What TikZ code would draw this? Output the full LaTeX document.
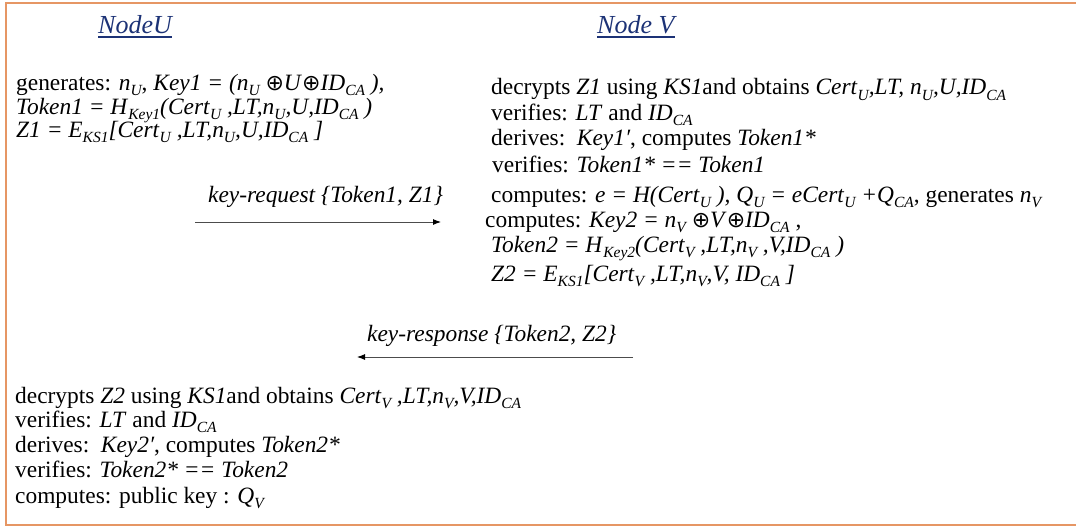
\documentclass[tikz,border=0pt]{standalone}
\usepackage{fontspec}
\setmainfont{Liberation Serif}
\newfontfamily\symfam{DejaVu Sans}
\usetikzlibrary{arrows.meta}
\definecolor{framec}{RGB}{230,150,100}
\definecolor{titlec}{RGB}{28,50,118}
% lowered italic subscript (takes no vertical room in the line)
\newcommand{\lo}[1]{\raisebox{-5.5pt}[0pt][0pt]{\fontsize{15.5}{16}\selectfont\itshape #1}}
% circled plus
\newcommand{\xo}{{\symfam\fontsize{22}{24}\selectfont ⊕}}
\begin{document}
\begin{tikzpicture}[x=1pt,y={(0pt,-1pt)},
  txt/.style={anchor=base west,inner sep=0pt,font=\fontsize{23.4}{26}\selectfont},
  lbl/.style={anchor=base west,inner sep=0pt,font=\fontsize{23.4}{26}\selectfont\itshape},
  title/.style={anchor=base west,inner sep=0pt,text=titlec,font=\fontsize{26}{30}\selectfont\itshape},
  uline/.style={draw=titlec,line width=1.4pt},
  msg/.style={draw=black!70,line width=0.9pt,-{Latex[length=8pt,width=6pt,color=black]}},
  frame/.style={draw=framec,line width=2pt}]
\useasboundingbox (0,0) rectangle (1076,527);
% outer frame (right edge lies outside the page)
\draw[frame] (1076,3) -- (6,3) -- (6,525) -- (1076,525);

% column titles
\node[title] (tu) at (98,34) {NodeU};
\path (tu.base west) ++(0,3) coordinate (tua) (tu.base east) ++(0,3) coordinate (tub);
\draw[uline] (tua) -- (tub);
\node[title] (tv) at (597,34) {Node V};
\path (tv.base west) ++(0,3) coordinate (tva) (tv.base east) ++(0,3) coordinate (tvb);
\draw[uline] (tva) -- (tvb);

% node U: request
\node[txt] (u1) at (16,90) {generates: \textit{n}\lo{U}, \textit{Key1 = (n}\lo{U} \xo\textit{U}\xo\textit{ID}\lo{CA} \textit{),}};
\node[txt] (u2) at (16,114) {\textit{Token1 = H}\lo{Key1}\textit{(Cert}\lo{U} \textit{,LT,n}\lo{U}\textit{,U,ID}\lo{CA} \textit{)}};
\node[txt] (u3) at (16,137) {\textit{Z1 = E}\lo{KS1}\textit{[Cert}\lo{U} \textit{,LT,n}\lo{U}\textit{,U,ID}\lo{CA} \textit{]}};

% node V: processing and response
\node[txt] (v1) at (491,95) {decrypts \textit{Z1} using \textit{KS1}and obtains \textit{Cert}\lo{U}\textit{,LT, n}\lo{U}\textit{,U,ID}\lo{CA}};
\node[txt] (v2) at (491,120) {verifies: \textit{LT} and \textit{ID}\lo{CA}};
\node[txt] (v3) at (491,145) {derives:\ \ \textit{Key1′}, computes \textit{Token1*}};
\node[txt] (v4) at (492,172) {verifies: \textit{Token1* == Token1}};
\node[txt] (v5) at (491,202) {computes: \textit{e = H(Cert}\lo{U} \textit{), Q}\lo{U}\textit{ = eCert}\lo{U} \textit{+Q}\lo{CA}, generates \textit{n}\lo{V}};
\node[txt] (v6) at (485,227) {computes: \textit{Key2 = n}\lo{V} \xo\textit{V}\xo\textit{ID}\lo{CA} ,};
\node[txt] (v7) at (491,252) {\textit{Token2 = H}\lo{Key2}\textit{(Cert}\lo{V} \textit{,LT,n}\lo{V} \textit{,V,ID}\lo{CA} \textit{)}};
\node[txt] (v8) at (491,281) {\textit{Z2 = E}\lo{KS1}\textit{[Cert}\lo{V} \textit{,LT,n}\lo{V}\textit{,V, ID}\lo{CA} \textit{]}};

% node U: response handling
\node[txt] (w1) at (15,403) {decrypts \textit{Z2} using \textit{KS1}and obtains \textit{Cert}\lo{V} \textit{,LT,n}\lo{V}\textit{,V,ID}\lo{CA}};
\node[txt] (w2) at (15,427) {verifies: \textit{LT} and \textit{ID}\lo{CA}};
\node[txt] (w3) at (15,452) {derives:\ \ \textit{Key2′}, computes \textit{Token2*}};
\node[txt] (w4) at (15,477) {verifies: \textit{Token2* == Token2}};
\node[txt] (w5) at (15,503) {computes: public key : \textit{Q}\lo{V}};

% messages
\node[lbl] (reqlbl) at (208,202) {key-request \{Token1, Z1\}};
\coordinate (reqA) at (195,222);
\coordinate (reqB) at (441,222);
\draw[msg] (reqA) -- (reqB);

\node[lbl] (reslbl) at (367,341) {key-response \{Token2, Z2\}};
\coordinate (resA) at (633,357);
\coordinate (resB) at (357,357);
\draw[msg] (resA) -- (resB);
\end{tikzpicture}
\end{document}
